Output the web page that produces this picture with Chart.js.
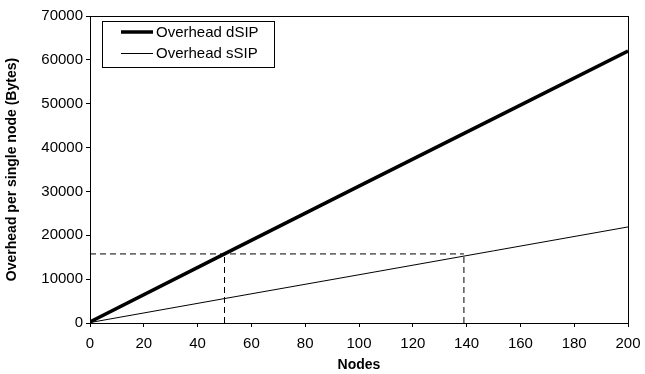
<!DOCTYPE html>
<html>
<head>
<meta charset="utf-8">
<script src="https://cdn.jsdelivr.net/npm/chart.js@4"></script>
<style>
  html, body { margin: 0; padding: 0; background: #fff; }
  #wrap { width: 645px; height: 374px; }
</style>
</head>
<body>
<div id="wrap"><canvas id="myChart"></canvas></div>
<script>
// values
const nodes = [0, 50, 100, 150, 200];
const overheadDsip = [250, 15750, 31200, 46600, 62000];
const overheadSsip = [100, 5570, 11000, 16450, 21900];
const seriesLabels = ['Overhead dSIP', 'Overhead sSIP'];
const guideLevel = 15750;
const guideNodes = [50, 139];

const fontName = '"Liberation Sans", Arial, sans-serif';

function toPoints (xs, ys) {
    return xs.map((x, i) => ({ x: x, y: ys[i] }));
}

let guides = [
    { x: 0, y: guideLevel },
    { x: guideNodes[1], y: guideLevel }
];

let guideStyle = {
    borderColor: '#000',
    borderWidth: 1,
    borderDash: [6, 4],
    pointRadius: 0,
    fill: false
};

let datasets = [
    {
        label: seriesLabels[0],
        data: toPoints(nodes, overheadDsip),
        borderColor: '#000',
        borderWidth: 3.5,
        pointRadius: 0,
        fill: false
    },
    {
        label: seriesLabels[1],
        data: toPoints(nodes, overheadSsip),
        borderColor: '#000',
        borderWidth: 1,
        pointRadius: 0,
        fill: false
    },
    Object.assign({ label: 'g1', data: guides }, guideStyle),
    Object.assign({ label: 'g2', data: [{ x: guideNodes[0], y: 0 }, { x: guideNodes[0], y: guideLevel }] }, guideStyle),
    Object.assign({ label: 'g3', data: [{ x: guideNodes[1], y: 0 }, { x: guideNodes[1], y: guideLevel }] }, guideStyle)
];

// frame round the plot and the boxed legend
const framePlugin = {
    id: 'frame',
    afterDraw(chart) {
        const c = chart.ctx;
        const a = chart.chartArea;
        c.save();
        c.strokeStyle = '#000';
        c.lineWidth = 1;
        c.strokeRect(Math.round(a.left) + 0.5, Math.round(a.top) + 0.5,
            Math.round(a.right - a.left), Math.round(a.bottom - a.top));

        // legend
        c.fillStyle = '#fff';
        c.fillRect(102, 21, 172, 46);
        c.strokeRect(102.5, 21.5, 172, 46);
        c.font = '15px ' + fontName;
        c.textBaseline = 'middle';
        [0, 1].forEach(function (i) {
            let ds = chart.data.datasets[i];
            let y = 32 + i * 21.5;
            c.beginPath();
            c.lineWidth = ds.borderWidth;
            c.moveTo(121, y);
            c.lineTo(153, y);
            c.stroke();
            c.fillStyle = '#000';
            c.fillText(ds.label, 156, y + 0.5);
        });
        c.restore();
    }
};

Chart.defaults.font.family = fontName;
Chart.defaults.color = '#000';

new Chart(document.getElementById('myChart'), {
    type: 'line',
    data: { datasets: datasets },
    plugins: [framePlugin],
    options: {
        responsive: true,
        maintainAspectRatio: false,
        animation: false,
        layout: { padding: { top: 16, right: 17, left: 0, bottom: 0 } },
        plugins: {
            legend: { display: false },
            tooltip: { enabled: false }
        },
        scales: {
            x: {
                type: 'linear',
                min: 0,
                max: 200,
                ticks: { stepSize: 20, font: { size: 15 }, padding: 8, color: '#000' },
                grid: { drawOnChartArea: false, tickLength: 4, color: '#000' },
                border: { color: '#000' },
                title: { display: true, text: 'Nodes', font: { size: 14, weight: 'bold' }, padding: { top: 4, bottom: 0 } },
                afterFit: function (scale) {
                    scale.height = 51;
                    scale.paddingLeft = 0;
                    scale.paddingRight = 0;
                }
            },
            y: {
                min: 0,
                max: 70000,
                ticks: { stepSize: 10000, font: { size: 15 }, padding: 3, color: '#000',
                    callback: function (v) { return String(v); } },
                grid: { drawOnChartArea: false, tickLength: 4, color: '#000' },
                border: { color: '#000' },
                title: { display: true, text: 'Overhead per single node (Bytes)', font: { size: 14, weight: 'bold' }, padding: { top: 4, bottom: 2 } },
                afterFit: function (scale) { scale.width = 90; }
            }
        }
    }
});
</script>
</body>
</html>
